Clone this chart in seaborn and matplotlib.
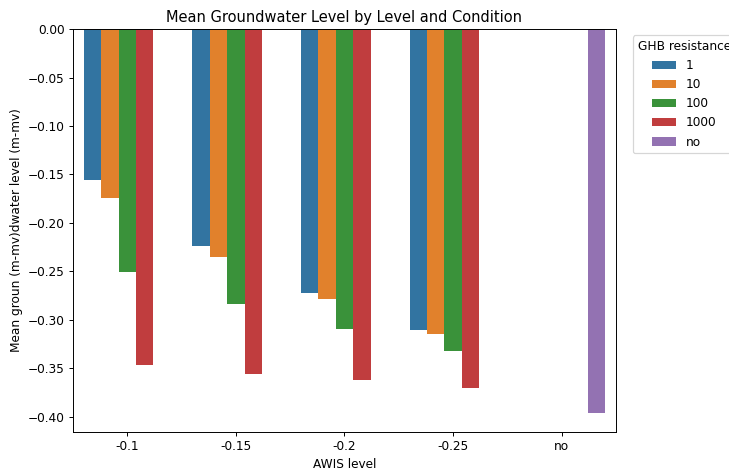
import matplotlib
matplotlib.use("Agg")
import matplotlib.pyplot as plt
import pandas as pd
import seaborn as sns

# AWIS levels and GHB resistance per bar, with mean groundwater level
levels = ["-0.1"] * 4 + ["-0.15"] * 4 + ["-0.2"] * 4 + ["-0.25"] * 4 + ["no"]
resistance = ["1", "10", "100", "1000"] * 4 + ["no"]
values = [
    -0.156, -0.174, -0.251, -0.347,
    -0.224, -0.235, -0.284, -0.356,
    -0.272, -0.279, -0.310, -0.362,
    -0.311, -0.315, -0.332, -0.370,
    -0.396,
]
level_order = ["-0.1", "-0.15", "-0.2", "-0.25", "no"]
hue_order = ["1", "10", "100", "1000", "no"]

df = pd.DataFrame({"AWIS level": levels, "GHB resistance": resistance, "gwl": values})

dpi = 87.5
fig = plt.figure(figsize=(729 / dpi, 471 / dpi), dpi=dpi)
ax = fig.add_axes([0.100, 0.083, 0.745, 0.855])
sns.barplot(
    data=df,
    x="AWIS level",
    y="gwl",
    hue="GHB resistance",
    order=level_order,
    hue_order=hue_order,
    errorbar=None,
    ax=ax,
)
ax.set_title("Mean Groundwater Level by Level and Condition")
ax.set_xlabel("AWIS level")
ax.set_ylabel("Mean groun (m-mv)dwater level (m-mv)")
ax.legend(title="GHB resistance", bbox_to_anchor=(1.02, 1), loc="upper left")

plt.savefig("out.png", dpi=dpi)
